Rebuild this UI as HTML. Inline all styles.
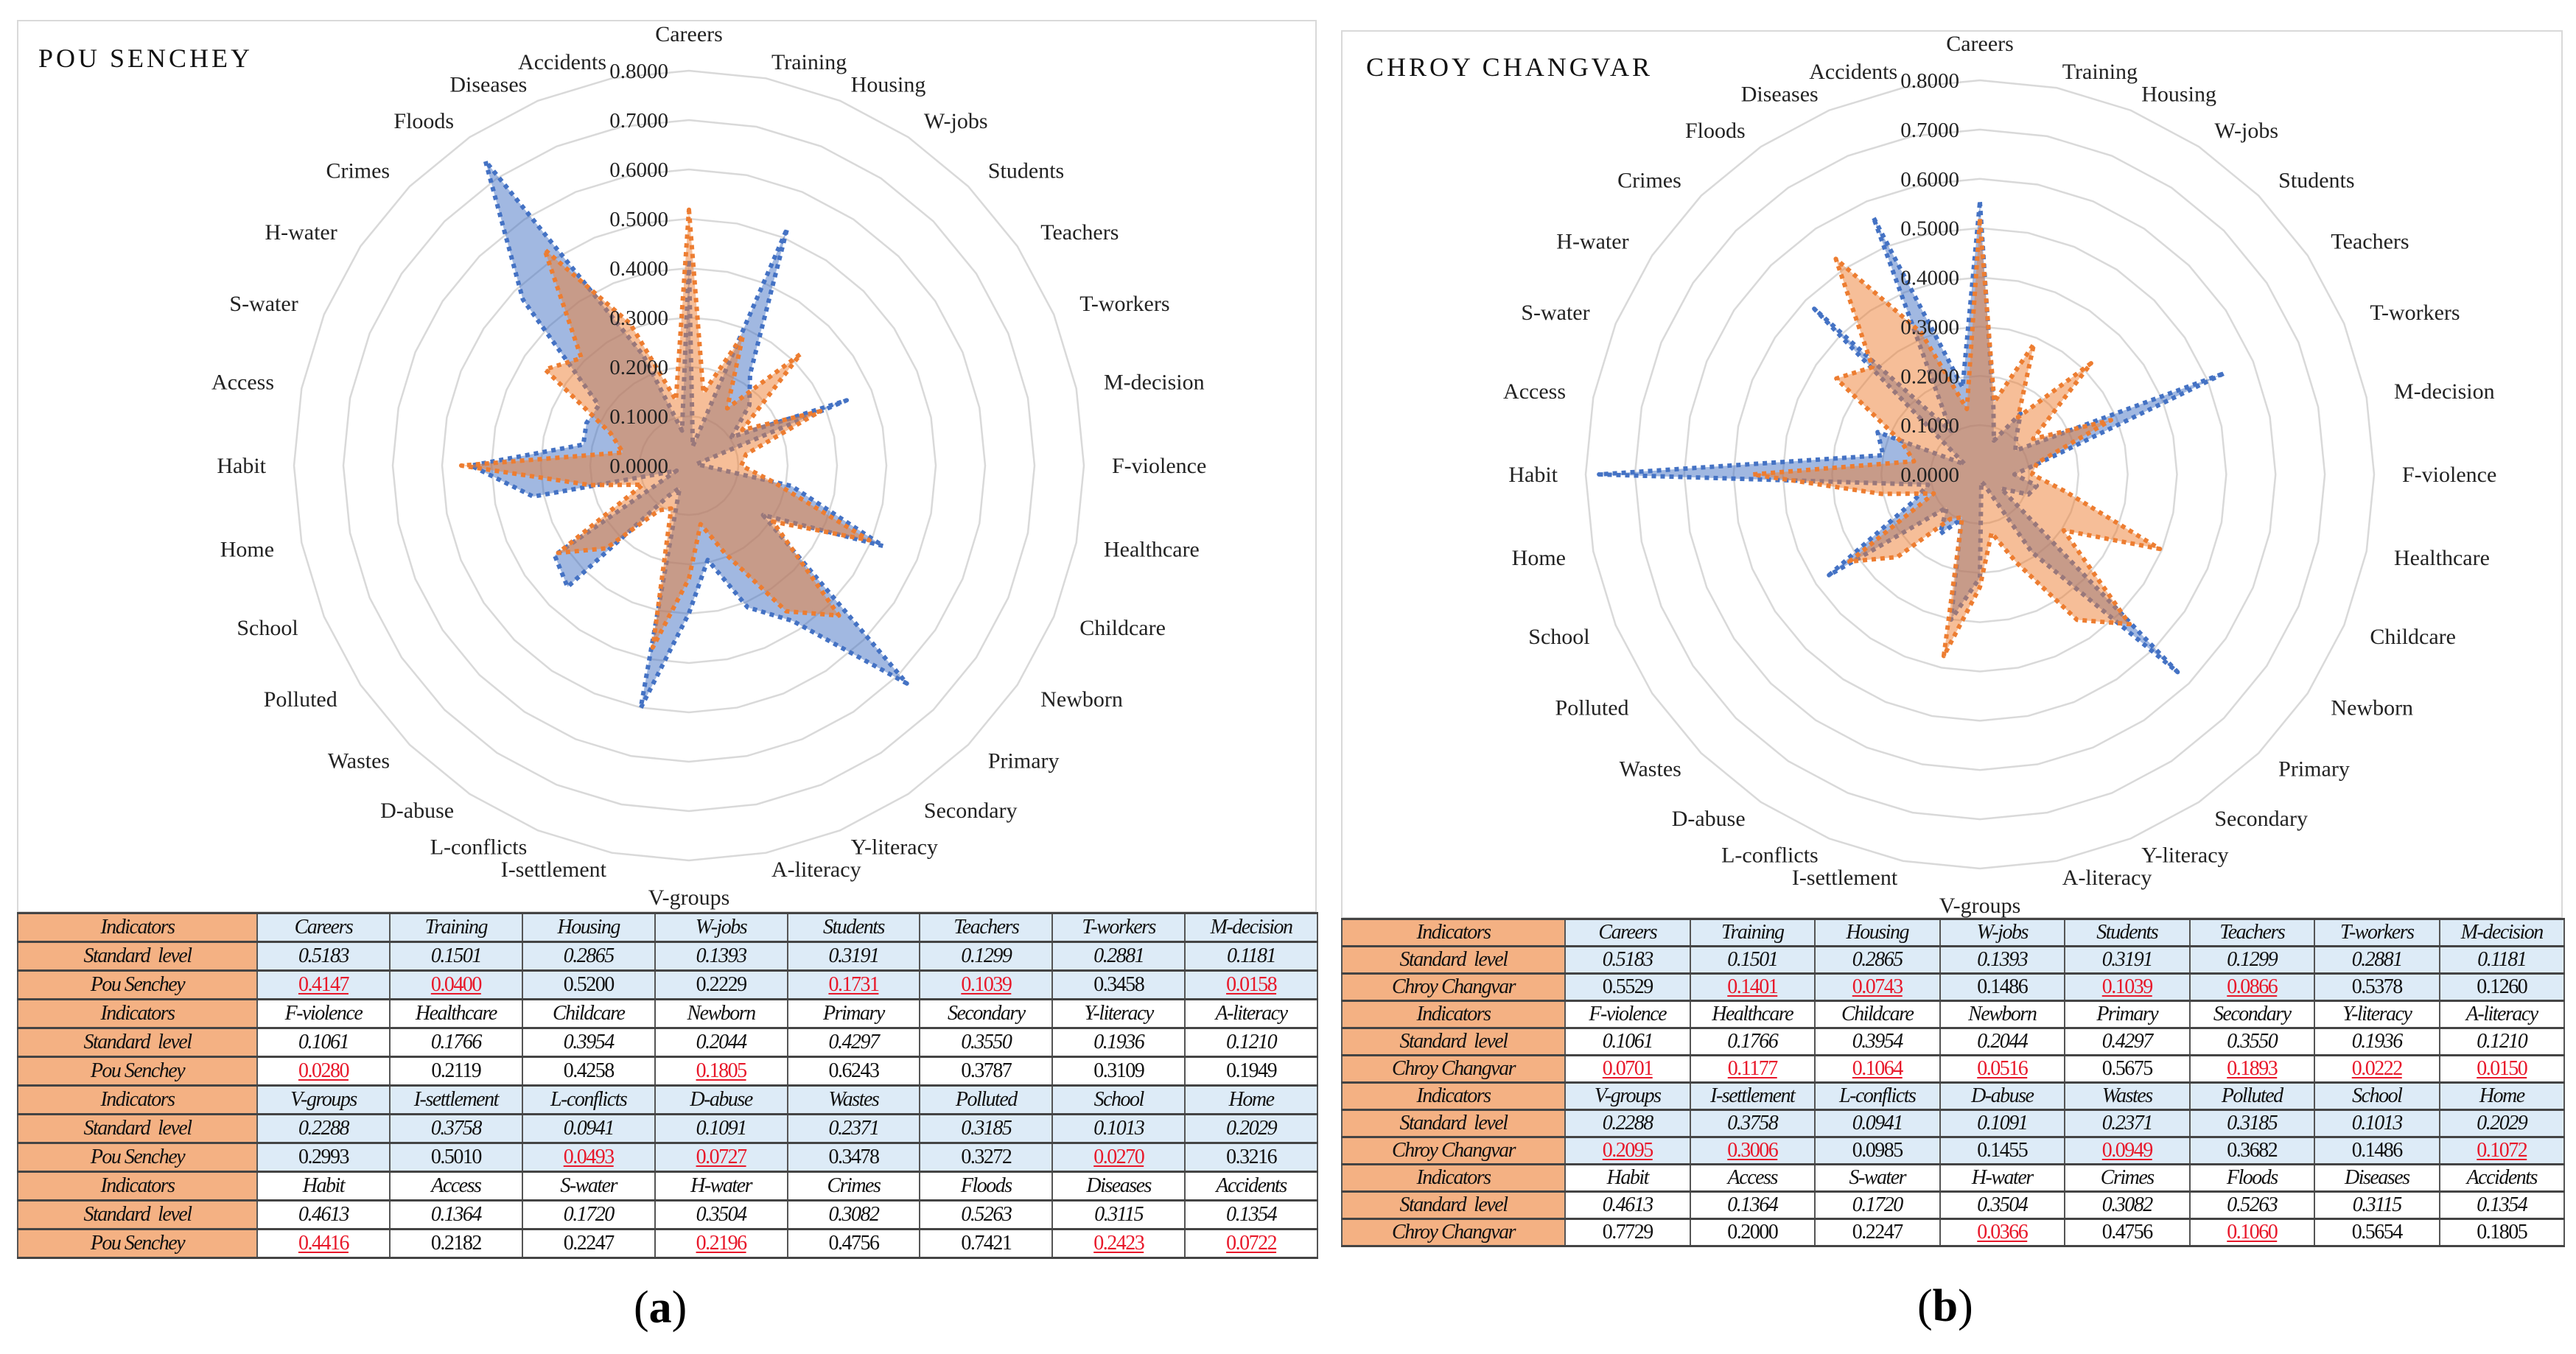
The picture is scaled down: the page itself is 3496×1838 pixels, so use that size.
<!DOCTYPE html>
<html><head><meta charset="utf-8">
<style>
html,body{margin:0;padding:0;background:#fff;}
body{width:3496px;height:1838px;position:relative;overflow:hidden;font-family:"Liberation Serif",serif;}
.frame{position:absolute;border:2px solid #d9d9d9;background:#fff;box-sizing:border-box;}
.title{position:absolute;font-family:"Liberation Serif",serif;font-size:36px;letter-spacing:4px;color:#111;}
table{position:absolute;border-collapse:collapse;table-layout:fixed;font-family:"Liberation Serif",serif;}
td{border-left:2px solid #555;border-right:2px solid #555;border-top:3px solid #444;border-bottom:3px solid #444;text-align:center;padding:0;font-size:28px;letter-spacing:-1.5px;color:#111;overflow:hidden;white-space:nowrap;}
td.h{background:#F4B183;font-style:italic;}
tr.hd td{font-style:italic;}
tr.sl td{font-style:italic;}
.blue td:not(.h){background:#DDEBF7;}
.red{color:#e8182a;text-decoration:underline;text-decoration-thickness:2px;text-underline-offset:3px;}
.cap{position:absolute;font-size:62px;font-family:"Liberation Serif",serif;}
svg{position:absolute;left:0;top:0;}
</style></head><body>
<div class="frame" style="left:23px;top:27px;width:1764px;height:1212px;"></div>
<div class="frame" style="left:1820px;top:41px;width:1658px;height:1206px;"></div>
<div class="title" style="left:52px;top:58px;">POU SENCHEY</div>
<div class="title" style="left:1854px;top:70px;">CHROY CHANGVAR</div>
<svg id="chart" width="3496" height="1838"></svg>
<table id="tblL" style="left:23px;top:1238px;width:1766px;"></table>
<table id="tblR" style="left:1820px;top:1246px;width:1661px;"></table>
<div class="cap" style="left:860px;top:1740px;">(<b>a</b>)</div>
<div class="cap" style="left:2602px;top:1738px;">(<b>b</b>)</div>
<script>
const categories=["Careers","Training","Housing","W-jobs","Students","Teachers","T-workers","M-decision","F-violence","Healthcare","Childcare","Newborn","Primary","Secondary","Y-literacy","A-literacy","V-groups","I-settlement","L-conflicts","D-abuse","Wastes","Polluted","School","Home","Habit","Access","S-water","H-water","Crimes","Floods","Diseases","Accidents"];
const standardLevel=[0.5183,0.1501,0.2865,0.1393,0.3191,0.1299,0.2881,0.1181,0.1061,0.1766,0.3954,0.2044,0.4297,0.3550,0.1936,0.1210,0.2288,0.3758,0.0941,0.1091,0.2371,0.3185,0.1013,0.2029,0.4613,0.1364,0.1720,0.3504,0.3082,0.5263,0.3115,0.1354];
const pouSenchey=[0.4147,0.0400,0.5200,0.2229,0.1731,0.1039,0.3458,0.0158,0.0280,0.2119,0.4258,0.1805,0.6243,0.3787,0.3109,0.1949,0.2993,0.5010,0.0493,0.0727,0.3478,0.3272,0.0270,0.3216,0.4416,0.2182,0.2247,0.2196,0.4756,0.7421,0.2423,0.0722];
const chroyChangvar=[0.5529,0.1401,0.0743,0.1486,0.1039,0.0866,0.5378,0.1260,0.0701,0.1177,0.1064,0.0516,0.5675,0.1893,0.0222,0.0150,0.2095,0.3006,0.0985,0.1455,0.0949,0.3682,0.1486,0.1072,0.7729,0.2000,0.2247,0.0366,0.4756,0.1060,0.5654,0.1805];
const tickLabels=["0.0000","0.1000","0.2000","0.3000","0.4000","0.5000","0.6000","0.7000","0.8000"];
const NS="http://www.w3.org/2000/svg";
const svg=document.getElementById('chart');
const MAX=0.8;
function mk(t,a){const e=document.createElementNS(NS,t);for(const k in a)e.setAttribute(k,a[k]);return e;}
function ang(i){return -Math.PI/2+i*2*Math.PI/categories.length;}
function pt(cx,cy,R,v,i){const r=v/MAX*R;return [cx+r*Math.cos(ang(i)),cy+r*Math.sin(ang(i))];}
function radar(cx,cy,R,comm,prefix){
  const g=mk('g',{});
  
  
  svg.appendChild(g);
  for(let k=1;k<tickLabels.length;k++){
    const v=k*0.1;const pts=categories.map((c,i)=>pt(cx,cy,R,v,i).join(',')).join(' ');
    const ring=mk('polygon',{points:pts,fill:'none',stroke:'#d9d9d9','stroke-width':2.5});
    
    
    g.appendChild(ring);
  }
  const series=[{d:comm,fill:'rgba(68,114,196,0.5)',st:'#4472C4',n:'community'},{d:standardLevel,fill:'rgba(237,125,49,0.5)',st:'#ED7D31',n:'standard'}];
  series.forEach(s=>{
    const pts=s.d.map((v,i)=>pt(cx,cy,R,v,i).join(',')).join(' ');
    const p=mk('polygon',{points:pts,fill:s.fill,stroke:s.st,'stroke-width':6,'stroke-dasharray':'6 6','stroke-linejoin':'round'});
    
    
    g.appendChild(p);
  });
  tickLabels.forEach((t,k)=>{
    const y=cy-k*0.1/MAX*R;
    const tx=mk('text',{x:cx-28,y:y+10,'text-anchor':'end','font-size':29,fill:'#222','font-family':'Liberation Serif, serif'});
    tx.textContent=t;
    
    
    g.appendChild(tx);
  });
  categories.forEach((c,i)=>{
    const a=ang(i);const cs=Math.cos(a),sn=Math.sin(a);
    const r=R+38;
    let anchor='middle';if(cs>0.15)anchor='start';else if(cs<-0.15)anchor='end';
    let y=cy+r*sn+10+sn*12;
    if(anchor!=='middle')y-=sn*Math.abs(sn)*28;
    const x=cx+r*cs;
    const tx=mk('text',{x:x,y:y,'text-anchor':anchor,'font-size':30,fill:'#222','font-family':'Liberation Serif, serif'});
    tx.textContent=c;
    
    
    g.appendChild(tx);
  });
}
radar(935,632,536,pouSenchey,'left');
radar(2687,644,535,chroyChangvar,'right');
function table(id,name,vals,rowH){
  const t=document.getElementById(id);
  const firstW=id==='tblL'?325:303;
  let html='<colgroup><col style="width:'+firstW+'px">'+'<col>'.repeat(8)+'</colgroup>';
  for(let b=0;b<4;b++){
    const cls=(b%2===0)?'blue':'';
    const cats=categories.slice(b*8,b*8+8);
    html+='<tr class="hd '+cls+'" style="height:'+rowH+'px"><td class="h">Indicators</td>'+cats.map(c=>'<td>'+c+'</td>').join('')+'</tr>';
    html+='<tr class="sl '+cls+'" style="height:'+rowH+'px"><td class="h">Standard &nbsp;level</td>'+cats.map((c,j)=>'<td>'+standardLevel[b*8+j].toFixed(4)+'</td>').join('')+'</tr>';
    html+='<tr class="'+cls+'" style="height:'+rowH+'px"><td class="h">'+name+'</td>'+cats.map((c,j)=>{const v=vals[b*8+j];const low=v<standardLevel[b*8+j];return '<td>'+(low?'<span class="red">'+v.toFixed(4)+'</span>':v.toFixed(4))+'</td>';}).join('')+'</tr>';
  }
  t.innerHTML=html;
  t.querySelectorAll('td').forEach(td=>{
    
    
  });
}
table('tblL','Pou Senchey',pouSenchey,39);
table('tblR','Chroy Changvar',chroyChangvar,37);
</script>
</body></html>
